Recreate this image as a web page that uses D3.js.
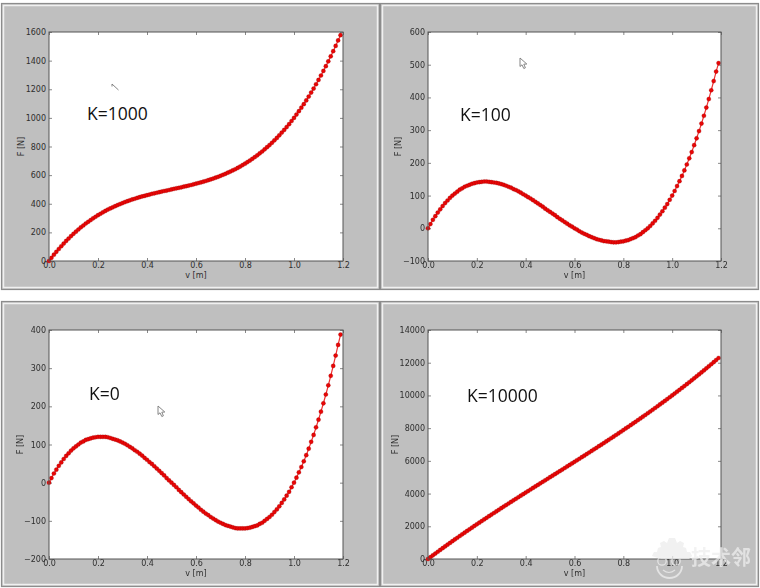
<!DOCTYPE html>
<html>
<head>
<meta charset="utf-8">
<script src="https://cdnjs.cloudflare.com/ajax/libs/d3/7.8.5/d3.min.js"></script>
<style>
html,body{margin:0;padding:0;background:#fff;}
svg{display:block;filter:blur(0.55px);}
text{font-family:"DejaVu Sans",sans-serif;}
</style>
</head>
<body>
<svg id="c" width="760" height="588"></svg>
<script>
const v = [0,.01,.02,.03,.04,.05,.06,.07,.08,.09,.1,.11,.12,.13,.14,.15,.16,.17,.18,.19,.2,.21,.22,.23,.24,.25,.26,.27,.28,.29,.3,.31,.32,.33,.34,.35,.36,.37,.38,.39,.4,.41,.42,.43,.44,.45,.46,.47,.48,.49,.5,.51,.52,.53,.54,.55,.56,.57,.58,.59,.6,.61,.62,.63,.64,.65,.66,.67,.68,.69,.7,.71,.72,.73,.74,.75,.76,.77,.78,.79,.8,.81,.82,.83,.84,.85,.86,.87,.88,.89,.9,.91,.92,.93,.94,.95,.96,.97,.98,.99,1,1.01,1.02,1.03,1.04,1.05,1.06,1.07,1.08,1.09,1.1,1.11,1.12,1.13,1.14,1.15,1.16,1.17,1.18,1.19];
const k1000 = [0,22,44,64,84,103,122,140,157,174,190,205,220,235,248,262,274,286,298,309,320,330,340,350,359,367,375,383,391,398,405,412,418,424,430,435,441,446,451,455,460,464,469,473,477,481,485,489,492,496,500,504,508,511,515,519,523,527,531,536,540,545,549,554,559,565,570,576,582,588,595,602,609,617,625,633,641,650,660,670,680,691,702,714,726,738,752,765,780,795,810,826,843,860,878,897,916,936,956,978,1000,1023,1047,1071,1096,1122,1149,1177,1205,1235,1265,1296,1328,1361,1395,1430,1466,1503,1541,1578];
const k100 = [0,13,26,37,48,58,68,77,85,93,100,106,112,118,122,127,130,133,136,138,140,141,142,143,143,142,141,140,139,137,135,133,130,127,124,120,117,113,109,104,100,95,91,86,81,76,71,66,60,55,50,45,40,34,29,24,19,14,9,5,0,-4,-9,-13,-17,-20,-24,-27,-30,-33,-35,-37,-39,-40,-41,-42,-43,-43,-42,-41,-40,-38,-36,-33,-30,-27,-22,-18,-12,-6,0,7,15,23,32,42,52,63,74,87,100,114,129,144,160,177,195,214,233,254,275,297,320,344,369,395,422,450,479,505];
const k0 = [0,12,24,34,44,53,62,70,77,84,90,95,100,105,108,112,114,116,118,119,120,120,120,120,119,117,115,113,111,108,105,102,98,94,90,85,81,76,71,65,60,54,49,43,37,31,25,19,12,6,0,-6,-12,-19,-25,-31,-37,-43,-49,-54,-60,-65,-71,-76,-81,-85,-90,-94,-98,-102,-105,-108,-111,-113,-115,-117,-119,-120,-120,-120,-120,-119,-118,-116,-114,-112,-108,-105,-100,-95,-90,-84,-77,-70,-62,-53,-44,-34,-24,-12,0,13,27,41,56,72,89,107,125,145,165,186,208,231,255,280,306,333,361,388];
const k10000 = [0,112,224,334,444,553,662,770,877,984,1090,1195,1300,1405,1508,1612,1714,1816,1918,2019,2120,2220,2320,2420,2519,2617,2715,2813,2911,3008,3105,3202,3298,3394,3490,3585,3681,3776,3871,3965,4060,4154,4249,4343,4437,4531,4625,4719,4812,4906,5000,5094,5188,5281,5375,5469,5563,5657,5751,5846,5940,6035,6129,6224,6319,6415,6510,6606,6702,6798,6895,6992,7089,7187,7285,7383,7481,7580,7680,7780,7880,7981,8082,8184,8286,8388,8492,8595,8700,8805,8910,9016,9123,9230,9338,9447,9556,9666,9776,9888,10000,10113,10227,10341,10456,10572,10689,10807,10925,11045,11165,11286,11408,11531,11655,11780,11906,12033,12161,12288];
const xTicks = [0,.2,.4,.6,.8,1,1.2];
const yTicks1000 = [0,200,400,600,800,1000,1200,1400,1600];
const yTicks100 = [-100,0,100,200,300,400,500,600];
const yTicks0 = [-200,-100,0,100,200,300,400];
const yTicks10000 = [0,2000,4000,6000,8000,10000,12000,14000];
const labels = ["K=1000","K=100","K=0","K=10000"];
const watermark = "技术邻";

const panels = [
  {frame:[2,4,377,285],  plot:[49,32,343,261],  ys:k1000,  yt:yTicks1000,  lab:labels[0], lx:87, ly:120, ylx:24,  cur:[112,84,"tick"]},
  {frame:[381,4,377,285],plot:[428,32,721,261], ys:k100,   yt:yTicks100,   lab:labels[1], lx:460,ly:121, ylx:401, cur:[520,58,"arrow"]},
  {frame:[2,302,377,284],plot:[49,330,343,559], ys:k0,     yt:yTicks0,     lab:labels[2], lx:89, ly:400, ylx:23,  cur:[158,406,"arrow"]},
  {frame:[381,302,377,284],plot:[428,330,721,559],ys:k10000,yt:yTicks10000,lab:labels[3], lx:467,ly:402, ylx:398, cur:null}
];

const svg = d3.select("#c");
const fmtY = d => String(d).replace("-", "\u2212");

panels.forEach(p => {
  const [fx,fy,fw,fh] = p.frame;
  const [x0,y0,x1,y1] = p.plot;
  svg.append("rect").attr("x",fx-0.5).attr("y",fy-0.5).attr("width",fw+1).attr("height",fh+1)
    .attr("fill","#bfbfbf").attr("stroke","#8c8c8c").attr("stroke-width",1.2);
  svg.append("rect").attr("x",fx+1.5).attr("y",fy+1.5).attr("width",fw-3).attr("height",fh-3)
    .attr("fill","none").attr("stroke","#f0f0f0").attr("stroke-width",1.5);
  svg.append("rect").attr("x",x0).attr("y",y0).attr("width",x1-x0).attr("height",y1-y0).attr("fill","#fff");

  const x = d3.scaleLinear().domain([0,1.2]).range([x0,x1]);
  const y = d3.scaleLinear().domain(d3.extent(p.yt)).range([y1,y0]);
  const g = svg.append("g");

  const style = sel => {
    sel.select(".domain").remove();
    sel.selectAll("line").attr("stroke","#555").attr("stroke-width",0.7);
    sel.selectAll("text").attr("fill","#2e2e2e").attr("font-size",8);
  };
  g.append("g").attr("transform",`translate(0,${y1})`)
    .call(d3.axisBottom(x).tickValues(xTicks).tickFormat(d3.format(".1f")).tickSizeInner(-3).tickPadding(2.5))
    .call(style).selectAll("text").attr("dy","0.55em");
  g.append("g").attr("transform",`translate(0,${y0})`)
    .call(d3.axisTop(x).tickValues(xTicks).tickFormat("").tickSizeInner(-3)).call(style);
  g.append("g").attr("transform",`translate(${x0},0)`)
    .call(d3.axisLeft(y).tickValues(p.yt).tickFormat(fmtY).tickSizeInner(-3).tickPadding(3)).call(style);
  g.append("g").attr("transform",`translate(${x1},0)`)
    .call(d3.axisRight(y).tickValues(p.yt).tickFormat("").tickSizeInner(-3)).call(style);
  g.selectAll("text").style("font-family",'"DejaVu Sans",sans-serif');

  const line = d3.line().x((d,i)=>x(v[i])).y(d=>y(d));
  const m = svg.append("g");
  m.append("path").datum(p.ys).attr("d",line).attr("fill","none").attr("stroke","#f03030").attr("stroke-width",1.2);
  m.selectAll("circle").data(p.ys).join("circle")
    .attr("cx",(d,i)=>x(v[i])).attr("cy",d=>y(d)).attr("r",2.1)
    .attr("fill","#e80606").attr("stroke","#8a0000").attr("stroke-width",0.25);

  svg.append("rect").attr("x",x0).attr("y",y0).attr("width",x1-x0).attr("height",y1-y0)
    .attr("fill","none").attr("stroke","#555").attr("stroke-width",1);

  svg.append("text").attr("x",(x0+x1)/2).attr("y",y1+17).attr("text-anchor","middle")
    .attr("font-size",8).attr("fill","#2e2e2e").text("v [m]");
  svg.append("text").attr("transform",`translate(${p.ylx},${(y0+y1)/2}) rotate(-90)`).attr("text-anchor","middle")
    .attr("font-size",8).attr("fill","#2e2e2e").text("F [N]");

  svg.append("text").attr("x",p.lx).attr("y",p.ly).attr("font-size",17.5).attr("fill","#111")
    .style("font-family",'"Open Sans",sans-serif').text(p.lab);

  if (p.cur) {
    const [cx,cy,kind] = p.cur;
    const d = kind==="arrow"
      ? "M0,0 L0,8.5 L2,6.8 L3.8,10.5 L5.4,9.8 L3.8,6.2 L6.8,6 Z"
      : "M0,0 L0,2.5 M0,0 L6.5,6";
    svg.append("path").attr("transform",`translate(${cx},${cy})`).attr("d",d)
      .attr("fill",kind==="arrow"?"#fff":"none").attr("stroke","#777").attr("stroke-width",0.9);
  }
});

// watermark in the lower right corner
const w = svg.append("g").attr("opacity",0.75);
w.append("path").attr("d","M652,556 l2,-4 h3 l1,-4 3,-1 -1,-4 4,-2 3,2 2,-5 h6 l2,5 3,-2 4,2 -1,4 3,1 1,4 h3 l2,4 -3,3 h-28 Z")
  .attr("fill","#ececec");
w.append("path").attr("d","M657,566 a12.5,12 0 0 0 25,0").attr("fill","none").attr("stroke","#efefef").attr("stroke-width",1.8);
w.append("circle").attr("cx",662).attr("cy",561).attr("r",4.2).attr("fill","none").attr("stroke","#efefef").attr("stroke-width",1.3);
w.append("circle").attr("cx",676).attr("cy",561).attr("r",4.2).attr("fill","none").attr("stroke","#efefef").attr("stroke-width",1.3);
w.append("path").attr("d","M663,570 q6,5 12,0").attr("fill","none").attr("stroke","#efefef").attr("stroke-width",1.2);
w.append("text").attr("x",691).attr("y",565).attr("font-size",20).attr("font-weight",700).attr("fill","#eeeeee")
  .style("font-family",'"Noto Sans CJK SC",sans-serif').text(watermark);
</script>
</body>
</html>
